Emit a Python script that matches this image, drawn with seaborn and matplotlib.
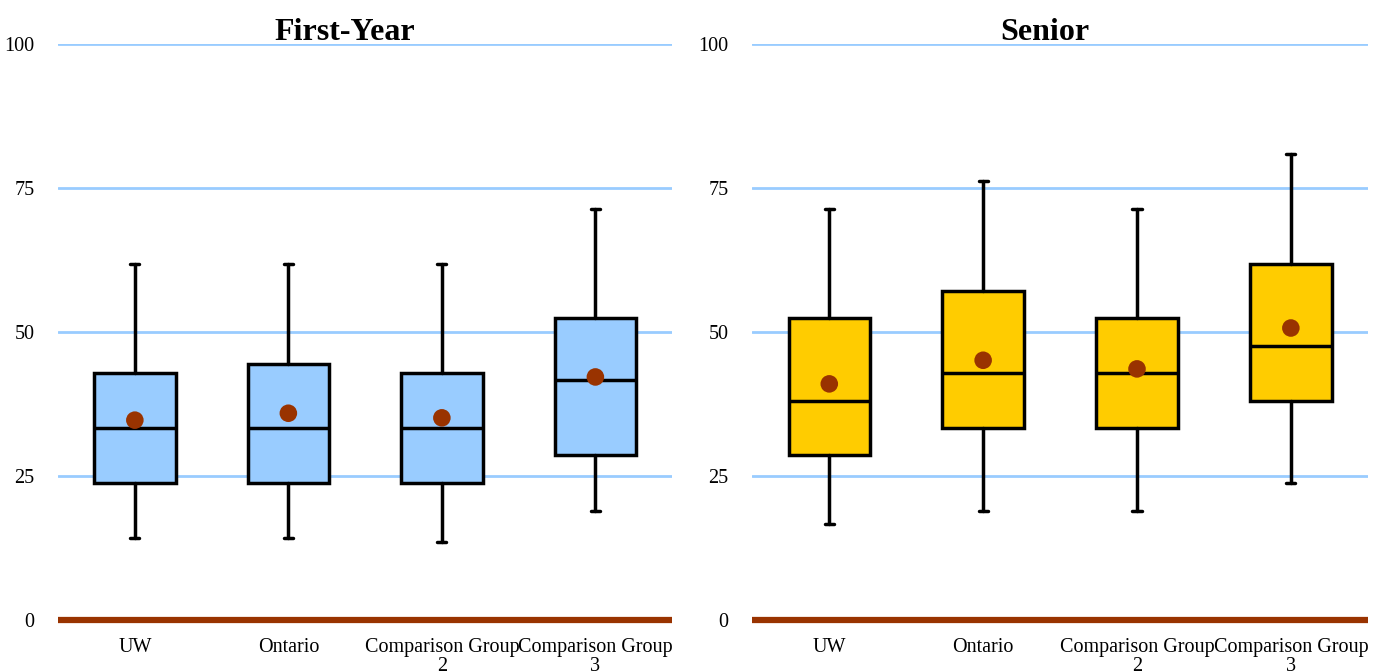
import matplotlib
matplotlib.use("Agg")
import matplotlib.pyplot as plt
import seaborn as sns
import pandas as pd

# category labels
categories = ["UW", "Ontario", "Comparison Group\n2", "Comparison Group\n3"]

# First-Year box stats
fy_low = [14.3, 14.3, 13.5, 19.0]
fy_q1 = [23.8, 23.8, 23.8, 28.6]
fy_med = [33.3, 33.3, 33.3, 41.7]
fy_q3 = [42.9, 44.4, 42.9, 52.4]
fy_high = [61.9, 61.9, 61.9, 71.4]
fy_mean = [34.7, 35.9, 35.1, 42.2]

# Senior box stats
sr_low = [16.7, 19.0, 19.0, 23.8]
sr_q1 = [28.6, 33.3, 33.3, 38.1]
sr_med = [38.1, 42.9, 42.9, 47.6]
sr_q3 = [52.4, 57.1, 52.4, 61.9]
sr_high = [71.4, 76.2, 71.4, 81.0]
sr_mean = [41.0, 45.1, 43.6, 50.7]

yticks = [0, 25, 50, 75, 100]

sns.set_style("white")
plt.rcParams["font.family"] = ["Liberation Serif", "DejaVu Serif"]
plt.rcParams["text.color"] = "black"
plt.rcParams["xtick.color"] = "black"
plt.rcParams["ytick.color"] = "black"

fig = plt.figure(figsize=(13.83, 6.72), dpi=100)
ax1 = fig.add_axes([0.042, 0.0774, 0.444, 0.857])
ax2 = fig.add_axes([0.544, 0.0774, 0.445, 0.857])


def draw_panel(ax, title, low, q1, med, q3, high, mean, color, title_x):
    stats = []
    for i in range(len(categories)):
        stats.append({
            "whislo": low[i], "q1": q1[i], "med": med[i],
            "q3": q3[i], "whishi": high[i], "fliers": [],
        })
    # grid lines behind the boxes
    for t in yticks[1:]:
        ax.axhline(t, color="#99CCFF", lw=2, zorder=0)
    ax.axhline(0, color="#993300", lw=4.5, zorder=3, clip_on=False,
               solid_capstyle="butt")

    ax.bxp(
        stats, positions=range(len(categories)), widths=0.53,
        showfliers=False, patch_artist=True,
        boxprops=dict(facecolor=color, edgecolor="black", linewidth=2.5),
        medianprops=dict(color="black", linewidth=2.5),
        whiskerprops=dict(color="black", linewidth=2.5),
        capprops=dict(color="black", linewidth=2.5),
        capwidths=0.06, zorder=2,
    )

    df = pd.DataFrame({"x": range(len(categories)), "mean": mean})
    sns.scatterplot(data=df, x="x", y="mean", ax=ax, color="#993300",
                    s=160, edgecolor="none", zorder=4, legend=False)

    ax.set_xlim(-0.5, len(categories) - 0.5)
    ax.set_ylim(0, 100)
    ax.set_yticks(yticks)
    ax.set_yticklabels([str(t) for t in yticks], fontsize=14.5)
    ax.set_xticks(range(len(categories)))
    ax.set_xticklabels(categories, fontsize=14.5, linespacing=1.0)
    ax.tick_params(axis="y", length=0, pad=17, labelcolor="black")
    ax.tick_params(axis="x", length=0, pad=13, labelcolor="black")
    ax.set_xlabel("")
    ax.set_ylabel("")
    ax.set_title(title, fontsize=23, fontweight="bold", pad=3, x=title_x,
                 color="black")
    for s in ax.spines.values():
        s.set_visible(False)


draw_panel(ax1, "First-Year", fy_low, fy_q1, fy_med, fy_q3, fy_high, fy_mean,
           "#99CCFF", 0.467)
draw_panel(ax2, "Senior", sr_low, sr_q1, sr_med, sr_q3, sr_high, sr_mean,
           "#FFCC00", 0.476)

fig.savefig("out.png", dpi=100)
